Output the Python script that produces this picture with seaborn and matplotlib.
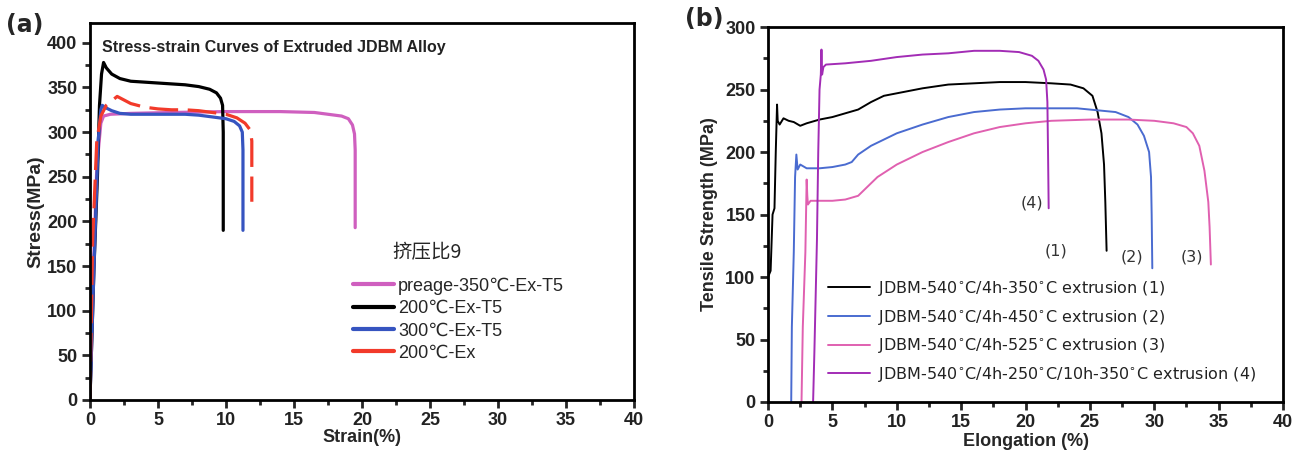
import numpy as np
import pandas as pd
import matplotlib
matplotlib.use("Agg")
import matplotlib.pyplot as plt
import seaborn as sns
from matplotlib.ticker import MultipleLocator

# ---- panel (a): stress-strain curves, extrusion ratio 9 ----
a_labels = ["preage-350\u2103-Ex-T5", "200\u2103-Ex-T5", "300\u2103-Ex-T5", "200\u2103-Ex"]

a_mag_x = [0, 0.2, 0.5, 0.8, 1.0, 1.5, 3.0, 6.0, 10.0, 14.0, 16.5, 17.5, 18.5, 19.0, 19.3, 19.45, 19.5, 19.5]
a_mag_y = [0, 120, 260, 310, 318, 320, 321, 322, 323, 323, 322, 320, 318, 315, 308, 298, 280, 193]

a_blk_x = [0, 0.3, 0.55, 0.7, 0.85, 1.0, 1.2, 1.6, 2.2, 3.0, 4.0, 5.0, 6.0, 7.0, 8.0, 8.8, 9.3, 9.6, 9.75, 9.8, 9.8]
a_blk_y = [0, 150, 250, 330, 365, 378, 372, 365, 360, 357, 356, 355, 354, 353, 351, 348, 344, 338, 330, 300, 190]

a_blu_x = [0, 0.3, 0.6, 0.8, 0.9, 1.2, 1.6, 2.2, 3.0, 5.0, 7.0, 8.0, 9.0, 10.0, 10.6, 11.0, 11.2, 11.25, 11.25]
a_blu_y = [0, 150, 290, 325, 330, 327, 324, 321, 320, 320, 320, 319, 317, 315, 312, 307, 300, 280, 190]

a_red_x = [0, 0.2, 0.5, 0.8, 1.2, 1.6, 2.0, 2.5, 3.0, 4.0, 5.0, 6.0, 7.0, 8.0, 9.0, 10.0, 10.8, 11.4, 11.8, 11.9, 11.9]
a_red_y = [0, 180, 290, 318, 330, 335, 340, 336, 332, 328, 326, 325, 325, 324, 322, 320, 316, 310, 302, 290, 222]

# ---- panel (b): tensile strength vs elongation ----
b_labels = ["JDBM-540$^{\\circ}$C/4h-350$^{\\circ}$C extrusion (1)",
            "JDBM-540$^{\\circ}$C/4h-450$^{\\circ}$C extrusion (2)",
            "JDBM-540$^{\\circ}$C/4h-525$^{\\circ}$C extrusion (3)",
            "JDBM-540$^{\\circ}$C/4h-250$^{\\circ}$C/10h-350$^{\\circ}$C extrusion (4)"]

b1_x = [0.0, 0.2, 0.35, 0.5, 0.6, 0.7, 0.75, 0.9, 1.2, 1.6, 2.0, 2.5, 3.0, 4.0, 5.0, 6.0, 7.0, 8.0, 9.0,
        10.0, 12.0, 14.0, 16.0, 18.0, 20.0, 22.0, 23.5, 24.5, 25.2, 25.6, 25.9, 26.1, 26.2, 26.3]
b1_y = [100, 105, 150, 155, 200, 238, 225, 222, 227, 225, 224, 221, 223, 226, 228, 231, 234, 240, 245,
        247, 251, 254, 255, 256, 256, 255, 254, 251, 245, 232, 215, 190, 160, 121]

b2_x = [1.8, 1.85, 2.0, 2.1, 2.2, 2.3, 2.5, 3.0, 4.0, 5.0, 6.0, 6.5, 7.0, 8.0, 9.0, 10.0, 12.0, 14.0,
        16.0, 18.0, 20.0, 22.0, 24.0, 26.0, 27.0, 28.0, 28.7, 29.2, 29.6, 29.75, 29.8, 29.85]
b2_y = [0, 60, 120, 180, 198, 186, 190, 187, 187, 188, 190, 192, 198, 205, 210, 215, 222, 228,
        232, 234, 235, 235, 235, 233, 232, 228, 222, 213, 200, 180, 150, 107]

b3_x = [2.6, 2.7, 2.9, 3.0, 3.05, 3.1, 3.3, 4.0, 5.0, 6.0, 7.0, 7.5, 8.5, 10.0, 12.0, 14.0, 16.0,
        18.0, 20.0, 22.0, 25.0, 28.0, 30.0, 31.5, 32.5, 33.0, 33.5, 33.9, 34.2, 34.3, 34.4]
b3_y = [0, 60, 120, 178, 165, 158, 161, 161, 161, 162, 165, 170, 180, 190, 200, 208, 215,
        220, 223, 225, 226, 226, 225, 223, 220, 215, 205, 185, 160, 140, 110]

b4_x = [3.5, 3.6, 3.8, 3.9, 4.0, 4.1, 4.15, 4.2, 4.3, 4.5, 6.0, 8.0, 10.0, 12.0, 14.0, 16.0, 18.0,
        19.5, 20.5, 21.0, 21.4, 21.6, 21.7, 21.75, 21.8]
b4_y = [0, 40, 130, 200, 250, 262, 282, 262, 268, 270, 271, 273, 276, 278, 279, 281, 281,
        280, 277, 273, 266, 258, 240, 200, 155]

b_tags = ["(4)", "(1)", "(2)", "(3)"]
b_tag_x = [20.5, 22.4, 28.3, 32.9]
b_tag_y = [159, 121, 116, 116]

sns.set_style("ticks")
plt.rcParams['font.family'] = ['Liberation Sans', 'DejaVu Sans']

fig = plt.figure(figsize=(13, 4.55), dpi=100)
ax1 = fig.add_axes([0.0692, 0.121, 0.4185, 0.828])
ax2 = fig.add_axes([0.5908, 0.1165, 0.3961, 0.824])

# panel a
a_colors = ["#cf5fbf", "#000000", "#3654c0", "#f23a2a"]
a_series = [(a_mag_x, a_mag_y), (a_blk_x, a_blk_y), (a_blu_x, a_blu_y), (a_red_x, a_red_y)]
for (xs, ys), c, lab in zip(a_series, a_colors, a_labels):
    df = pd.DataFrame({"x": xs, "y": ys})
    ls = (0, (9, 3)) if lab == "200\u2103-Ex" else "-"
    sns.lineplot(data=df, x="x", y="y", sort=False, estimator=None, ax=ax1,
                 color=c, linewidth=2.3, linestyle=ls, label=lab)

ax1.set_xlim(0, 40)
ax1.set_ylim(0, 422)
ax1.xaxis.set_major_locator(MultipleLocator(5))
ax1.xaxis.set_minor_locator(MultipleLocator(2.5))
ax1.yaxis.set_major_locator(MultipleLocator(50))
ax1.yaxis.set_minor_locator(MultipleLocator(25))
ax1.set_xlabel("Strain(%)", fontsize=13, fontweight="bold", labelpad=0)
ax1.set_ylabel("Stress(MPa)", fontsize=14, fontweight="bold", labelpad=2)
ax1.text(0.022, 0.955, "Stress-strain Curves of Extruded JDBM Alloy", transform=ax1.transAxes,
         fontsize=11.5, fontweight="bold", va="top", ha="left", color="#222222")
ax1.text(0.555, 0.39, "挤压比9", transform=ax1.transAxes, fontsize=14, va="center", ha="left",
         family=['Noto Sans CJK SC', 'DejaVu Sans'])
leg1 = ax1.legend(loc="upper left", bbox_to_anchor=(0.47, 0.345), frameon=False, fontsize=13,
                  handlelength=2.3, handletextpad=0.2, labelspacing=0.3, borderaxespad=0)
for l in leg1.get_lines():
    l.set_linestyle("-")
    l.set_linewidth(3)

# panel b
b_colors = ["#000000", "#4a6bd0", "#e060b0", "#a22cb5"]
b_series = [(b1_x, b1_y), (b2_x, b2_y), (b3_x, b3_y), (b4_x, b4_y)]
for (xs, ys), c, lab in zip(b_series, b_colors, b_labels):
    df = pd.DataFrame({"x": xs, "y": ys})
    sns.lineplot(data=df, x="x", y="y", sort=False, estimator=None, ax=ax2,
                 color=c, linewidth=1.4, label=lab)

for t, tx, ty in zip(b_tags, b_tag_x, b_tag_y):
    ax2.text(tx, ty, t, fontsize=11.5, color="#333333", ha="center", va="center",
             family="DejaVu Sans")

ax2.set_xlim(0, 40)
ax2.set_ylim(0, 300)
ax2.xaxis.set_major_locator(MultipleLocator(5))
ax2.xaxis.set_minor_locator(MultipleLocator(2.5))
ax2.yaxis.set_major_locator(MultipleLocator(50))
ax2.yaxis.set_minor_locator(MultipleLocator(25))
ax2.set_xlabel("Elongation (%)", fontsize=13, fontweight="bold", labelpad=1)
ax2.set_ylabel("Tensile Strength (MPa)", fontsize=13, fontweight="bold", labelpad=5)
leg2 = ax2.legend(loc="upper left", bbox_to_anchor=(0.105, 0.345), frameon=False,
                  handlelength=2.6, handletextpad=0.5, labelspacing=0.6, borderaxespad=0,
                  prop={"family": "DejaVu Sans", "size": 11.5})
for txt in leg2.get_texts():
    txt.set_color("#222222")

for ax in (ax1, ax2):
    for s in ax.spines.values():
        s.set_linewidth(2)
        s.set_color("black")
    ax.tick_params(which="major", direction="out", length=6, width=2, labelsize=13,
                   top=False, right=False, pad=3)
    ax.tick_params(which="minor", direction="out", length=3.5, width=2, top=False, right=False)
    for lab in ax.get_xticklabels() + ax.get_yticklabels():
        lab.set_fontweight("bold")
        lab.set_color("#222222")

fig.text(0.005, 0.945, "(a)", fontsize=17, fontweight="bold", va="center", ha="left",
         family="DejaVu Sans")
fig.text(0.527, 0.958, "(b)", fontsize=17, fontweight="bold", va="center", ha="left",
         family="DejaVu Sans")

fig.savefig("out.png", dpi=100)
